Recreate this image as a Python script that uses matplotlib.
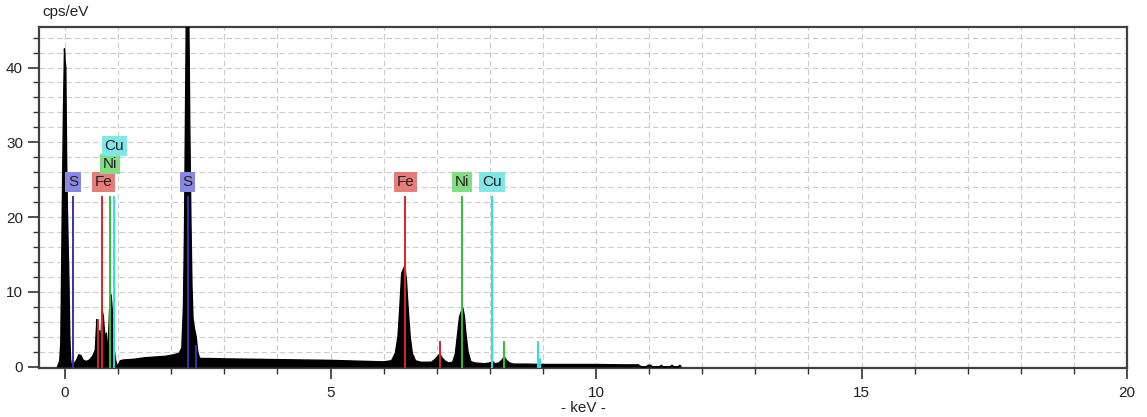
import numpy as np
import matplotlib
matplotlib.use('Agg')
import matplotlib.pyplot as plt
from matplotlib.ticker import MultipleLocator

plt.rcParams['font.family'] = ['Liberation Sans', 'DejaVu Sans']

# EDX spectrum (keV, cps/eV)
energy_kev = [-0.14, -0.10, -0.08, -0.065, -0.055, -0.03, -0.01, 0.0, 0.015, 0.03,
              0.045, 0.06, 0.075, 0.09, 0.105, 0.12, 0.16, 0.22, 0.26, 0.30,
              0.34, 0.40, 0.46, 0.52, 0.57, 0.60, 0.62, 0.635, 0.65, 0.67,
              0.70, 0.72, 0.74, 0.76, 0.78, 0.80, 0.82, 0.85, 0.87, 0.89,
              0.91, 0.93, 0.95, 0.97, 1.0, 1.04, 1.1, 1.3, 1.5, 1.7,
              1.9, 2.05, 2.15, 2.2, 2.23, 2.25, 2.27, 2.29, 2.31, 2.33,
              2.35, 2.37, 2.39, 2.41, 2.44, 2.47, 2.50, 2.53, 2.56, 2.7,
              3.0, 3.5, 4.0, 4.5, 5.0, 5.5, 6.0, 6.15, 6.22, 6.27,
              6.31, 6.34, 6.37, 6.40, 6.43, 6.46, 6.50, 6.54, 6.60, 6.7,
              6.9, 6.97, 7.02, 7.06, 7.10, 7.15, 7.22, 7.30, 7.35, 7.39,
              7.43, 7.46, 7.49, 7.52, 7.55, 7.59, 7.64, 7.72, 7.9, 8.0,
              8.05, 8.10, 8.17, 8.23, 8.27, 8.31, 8.37, 8.45, 8.7, 9.0,
              9.5, 10.0, 10.5, 10.8, 10.85, 10.95, 10.98, 11.03, 11.06, 11.2,
              11.23, 11.26, 11.4, 11.43, 11.46, 11.55, 11.58, 11.6]
counts = [0, 0.8, 3, 12, 19, 34, 42.5, 41, 40, 28,
          21, 16, 11, 4, 1, 0.2, 0.3, 0.9, 1.6, 1.5,
          0.9, 0.7, 0.9, 1.4, 2.2, 6.3, 5.5, 2.5, 4.8, 3.0,
          7.5, 6.8, 5.0, 3.5, 4.5, 2.0, 3.8, 9.9, 9.5, 7.5,
          5.0, 2.0, 1.0, 0.3, 0.2, 0.8, 0.9, 1.0, 1.2, 1.3,
          1.4, 1.6, 1.8, 2.5, 8, 18, 35, 52, 58, 48,
          32, 20, 11, 6.5, 5, 4, 2, 1.2, 1.1, 1.1,
          1.05, 1.0, 0.95, 0.9, 0.85, 0.75, 0.65, 0.8, 1.8, 4.0,
          8.5, 12.5, 13, 13.5, 11.5, 8, 4.0, 1.8, 0.8, 0.6,
          0.6, 1.0, 1.4, 1.7, 1.2, 0.8, 0.5, 0.6, 1.7, 4.2,
          6.7, 7.3, 7.9, 6.8, 4.4, 2.0, 0.7, 0.5, 0.4, 0.5,
          0.7, 0.4, 0.5, 0.9, 1.3, 0.9, 0.5, 0.35, 0.35, 0.3,
          0.3, 0.3, 0.25, 0.25, 0, 0, 0.2, 0.2, 0, 0,
          0.2, 0, 0, 0.2, 0, 0, 0.2, 0]

# element lines (keV, height, element)
line_energy = [0.149, 0.615, 0.705, 0.851, 0.930, 2.307, 2.464,
               6.404, 7.058, 7.478, 8.265, 8.048, 8.905, 8.95]
line_height = [22.7, 6.3, 22.7, 22.7, 22.7, 22.7, 2.8,
               22.7, 3.3, 22.7, 3.3, 22.7, 3.3, 1.1]
line_element = ['S', 'Fe', 'Fe', 'Ni', 'Cu', 'S', 'S',
                'Fe', 'Fe', 'Ni', 'Ni', 'Cu', 'Cu', 'Cu']

# labels (keV, cps/eV, element)
label_energy = [0.15, 0.72, 0.84, 0.93, 2.31, 6.41, 7.48, 8.04]
label_y = [24.7, 24.7, 27.1, 29.5, 24.7, 24.7, 24.7, 24.7]
label_element = ['S', 'Fe', 'Ni', 'Cu', 'S', 'Fe', 'Ni', 'Cu']

line_colors = {'S': '#3434b4', 'Fe': '#dc2222', 'Ni': '#2cc42c', 'Cu': '#2ce0e6'}
box_colors = {'S': '#8888e4', 'Fe': '#e67c7c', 'Ni': '#84dc84', 'Cu': '#80e6e6'}

fig = plt.figure(figsize=(11.47, 4.17), dpi=100)
ax = fig.add_axes([0.034, 0.1175, 0.9486, 0.8175])

ax.fill_between(energy_kev, counts, 0, color='black', linewidth=1.0, edgecolor='black', zorder=3)

for e, h, el in zip(line_energy, line_height, line_element):
    ax.plot([e, e], [0, h], color=line_colors[el], linewidth=1.4, zorder=4)

for e, y, el in zip(label_energy, label_y, label_element):
    ax.text(e, y, el, ha='center', va='center', fontsize=11, color='#202020', zorder=5,
            bbox=dict(boxstyle='square,pad=0.18', facecolor=box_colors[el], edgecolor='none'))

ax.set_xlim(-0.49, 20)
ax.set_ylim(-0.17, 45.4)

ax.xaxis.set_major_locator(MultipleLocator(5))
ax.xaxis.set_minor_locator(MultipleLocator(1))
ax.yaxis.set_major_locator(MultipleLocator(10))
ax.yaxis.set_minor_locator(MultipleLocator(2))
ax.tick_params(which='major', length=8, width=1.2, colors='#333333', labelsize=11, labelcolor='#222222')
ax.tick_params(which='minor', length=4, width=1.0, colors='#333333')
ax.tick_params(axis='x', pad=5)

ax.grid(which='both', color='#cccccc', linestyle=(0, (5, 3)), linewidth=0.8)
ax.set_axisbelow(True)

for sp in ax.spines.values():
    sp.set_color('#404040')
    sp.set_linewidth(1.6)

ax.set_xlabel('- keV -', fontsize=11, labelpad=1, color='#222222')
fig.text(0.037, 0.955, 'cps/eV', fontsize=11, color='#222222', ha='left', va='bottom')

plt.savefig('out.png', dpi=100)
plt.close()
